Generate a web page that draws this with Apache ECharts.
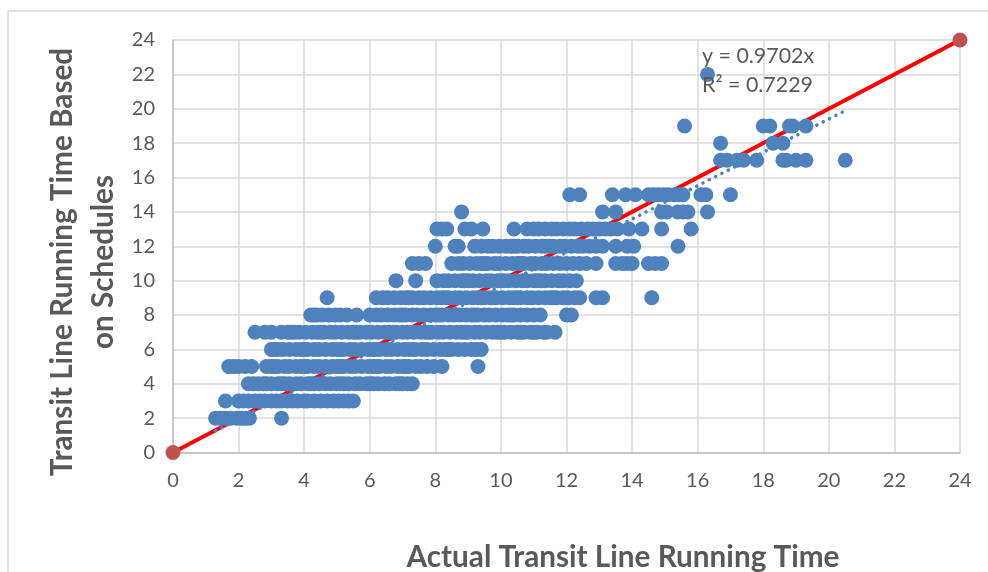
<!DOCTYPE html>
<html>
<head>
<meta charset="utf-8">
<style>
  html, body { margin: 0; padding: 0; background: #fff; }
  #chart { width: 988px; height: 572px; }
</style>
<script src="https://cdn.jsdelivr.net/npm/echarts@6/dist/echarts.min.js"></script>
</head>
<body>
<div id="chart"></div>
<script>
// x values, one list per schedule time
var row2 = [1.3, 1.45, 1.6, 1.75, 1.95, 2.1, 2.2, 2.33, 3.31];
var row3 = [1.6, 2.0, 2.15, 2.3, 2.5, 2.65, 2.8, 3.0, 3.15, 3.3, 3.5, 3.65, 3.8, 4.0, 4.1, 4.3, 4.5, 4.7, 4.9, 5.05, 5.2, 5.35, 5.5];
var row4 = [2.3, 2.45, 2.6, 2.75, 2.85, 3.0, 3.2, 3.3, 3.4, 3.55, 3.75, 3.9, 4.1, 4.2, 4.3, 4.45, 4.65, 4.8, 5.0, 5.1, 5.2, 5.35, 5.55, 5.7, 5.9, 6.0, 6.1, 6.25, 6.45, 6.6, 6.8, 6.9, 7.0, 7.15, 7.3];
var row5 = [1.7, 1.85, 2.0, 2.2, 2.4, 2.85, 3.0, 3.1, 3.2, 3.4, 3.55, 3.75, 3.9, 4.0, 4.1, 4.3, 4.45, 4.65, 4.85, 5.0, 5.1, 5.2, 5.4, 5.55, 5.75, 5.95, 6.1, 6.2, 6.3, 6.5, 6.65, 6.85, 7.0, 7.1, 7.2, 7.4, 7.55, 7.75, 7.95, 8.2, 9.3];
var row6 = [3.0, 3.1, 3.2, 3.35, 3.55, 3.75, 3.9, 4.0, 4.1, 4.3, 4.45, 4.65, 4.85, 5.0, 5.1, 5.2, 5.4, 5.55, 5.75, 5.95, 6.1, 6.2, 6.3, 6.5, 6.65, 6.85, 7.05, 7.2, 7.3, 7.4, 7.6, 7.75, 7.95, 8.15, 8.3, 8.4, 8.5, 8.7, 8.9, 9.1, 9.25, 9.4];
var row7 = [2.5, 2.8, 3.0, 3.3, 3.5, 3.6, 3.7, 3.85, 4.05, 4.25, 4.4, 4.5, 4.6, 4.8, 4.95, 5.15, 5.35, 5.5, 5.6, 5.7, 5.9, 6.05, 6.25, 6.45, 6.6, 6.7, 6.8, 7.0, 7.15, 7.35, 7.55, 7.7, 7.8, 7.9, 8.1, 8.25, 8.45, 8.65, 8.8, 8.9, 9.0, 9.2, 9.35, 9.55, 9.75, 9.9, 10.0, 10.1, 10.3, 10.5, 10.6, 10.7, 10.9, 11.0, 11.1, 11.3, 11.4, 11.65];
var row8 = [4.2, 4.3, 4.4, 4.55, 4.75, 4.95, 5.1, 5.3, 5.6, 6.0, 6.2, 6.35, 6.55, 6.75, 6.9, 7.0, 7.1, 7.3, 7.45, 7.65, 7.85, 8.0, 8.1, 8.2, 8.4, 8.55, 8.75, 8.95, 9.1, 9.2, 9.3, 9.5, 9.65, 9.85, 10.05, 10.2, 10.3, 10.4, 10.6, 10.8, 11.0, 11.2, 12.0, 12.15];
var row9 = [4.7, 6.2, 6.4, 6.55, 6.75, 6.95, 7.1, 7.2, 7.3, 7.5, 7.65, 7.85, 8.05, 8.2, 8.3, 8.4, 8.6, 8.75, 8.95, 9.15, 9.3, 9.4, 9.5, 9.7, 9.85, 10.05, 10.25, 10.4, 10.5, 10.6, 10.8, 10.95, 11.15, 11.35, 11.5, 11.6, 11.7, 11.9, 12.05, 12.25, 12.4, 12.9, 13.1, 14.6];
var row10 = [6.8, 7.4, 8.05, 8.25, 8.4, 8.6, 8.8, 8.9, 9.0, 9.15, 9.35, 9.55, 9.7, 9.9, 10.0, 10.1, 10.25, 10.45, 10.65, 10.8, 11.0, 11.1, 11.2, 11.35, 11.55, 11.75, 11.9, 12.1, 12.3];
var row11 = [7.3, 7.5, 7.7, 8.5, 8.7, 8.85, 9.05, 9.25, 9.4, 9.5, 9.6, 9.8, 9.95, 10.15, 10.35, 10.5, 10.6, 10.7, 10.9, 11.05, 11.25, 11.4, 11.6, 11.8, 12.0, 12.2, 12.4, 12.6, 12.9, 13.5, 13.7, 13.85, 14.0, 14.5, 14.7, 14.9];
var row12 = [8.0, 8.6, 8.7, 9.2, 9.4, 9.6, 9.75, 9.95, 10.15, 10.3, 10.4, 10.5, 10.7, 10.85, 11.05, 11.25, 11.4, 11.5, 11.6, 11.8, 11.95, 12.15, 12.35, 12.5, 12.7, 12.9, 13.1, 13.5, 13.85, 14.05, 15.4];
var row13 = [8.05, 8.2, 8.35, 8.9, 9.1, 9.45, 10.4, 10.8, 11.0, 11.15, 11.35, 11.55, 11.7, 11.9, 12.1, 12.25, 12.45, 12.65, 12.8, 13.0, 13.2, 13.35, 13.55, 13.9, 14.3, 14.9, 15.8];
var row14 = [8.8, 13.1, 13.5, 14.9, 15.05, 15.4, 15.55, 15.7, 16.3];
var row15 = [12.1, 12.4, 13.4, 13.8, 14.1, 14.5, 14.65, 14.8, 14.95, 15.1, 15.3, 15.45, 15.55, 16.1, 16.25, 17.0];
var row17 = [16.7, 16.9, 17.2, 17.4, 17.8, 18.6, 18.7, 19.0, 19.3, 20.5];
var row18 = [16.7, 18.3, 18.6];
var row19 = [15.6, 18.0, 18.2, 18.8, 18.9, 19.3];
var row22 = [16.3];

var scheduleTimes = [2, 3, 4, 5, 6, 7, 8, 9, 10, 11, 12, 13, 14, 15, 17, 18, 19, 22];
var actualTimes = [row2, row3, row4, row5, row6, row7, row8, row9, row10, row11, row12, row13, row14, row15, row17, row18, row19, row22];

var equalLine = [[0, 0], [24, 24]];
var trendLine = [[1.3, 1.26], [20.5, 19.89]];

var points = [];
actualTimes.forEach(function(list, i) {
  list.forEach(function(x) {
    points.push([x, scheduleTimes[i]]);
  });
});

var ink = '#595959';
var gridColor = '#D9D9D9';
var axisColor = '#BFBFBF';
var fontName = 'Lato';

var chart = echarts.init(document.getElementById('chart'), null, { renderer: 'canvas' });

function valueAxis() {
  return {
    type: 'value',
    min: 0,
    max: 24,
    interval: 2,
    axisLine: { show: true, lineStyle: { color: axisColor, width: 1.5 } },
    axisTick: { show: false },
    axisLabel: { color: ink, fontSize: 20, fontFamily: fontName, margin: 18 },
    splitLine: { show: true, lineStyle: { color: gridColor, width: 1.5 } }
  };
}

chart.setOption({
  animation: false,
  backgroundColor: '#fff',
  grid: { left: 173, right: 28, top: 40, bottom: 119.5 },
  xAxis: valueAxis(),
  yAxis: valueAxis(),
  series: [
    {
      type: 'line',
      data: equalLine,
      symbol: 'none',
      z: 2,
      lineStyle: { color: '#FF0000', width: 4 }
    },
    {
      type: 'scatter',
      data: points,
      symbolSize: 15,
      z: 3,
      itemStyle: { color: '#4F81BD', opacity: 1 }
    },
    {
      type: 'line',
      data: trendLine,
      symbol: 'none',
      z: 4,
      lineStyle: { color: '#4F81BD', width: 3.5, type: [0.1, 7], cap: 'round' }
    },
    {
      type: 'scatter',
      data: equalLine,
      symbolSize: 15,
      clip: false,
      z: 5,
      itemStyle: { color: '#C0504D', opacity: 1 }
    }
  ],
  graphic: [
    { type: 'line', silent: true, shape: { x1: 8, y1: 11, x2: 8, y2: 572 }, style: { stroke: gridColor, lineWidth: 1.5 } },
    { type: 'line', silent: true, shape: { x1: 8, y1: 11, x2: 988, y2: 11 }, style: { stroke: gridColor, lineWidth: 1.5 } },
    {
      type: 'text', z: 10, x: 702, y: 42,
      style: { text: 'y = 0.9702x\nR² = 0.7229', fill: ink, font: '21.4px ' + fontName, lineHeight: 29 }
    },
    {
      type: 'text', z: 10, x: 623, y: 557,
      style: { text: 'Actual Transit Line Running Time', fill: ink, font: 'bold 29.7px ' + fontName, textAlign: 'center', textVerticalAlign: 'middle' }
    },
    {
      type: 'text', z: 10, x: 62, y: 262, rotation: Math.PI / 2,
      style: { text: 'Transit Line Running Time Based', fill: ink, font: 'bold 29.7px ' + fontName, textAlign: 'center', textVerticalAlign: 'middle' }
    },
    {
      type: 'text', z: 10, x: 103, y: 262, rotation: Math.PI / 2,
      style: { text: 'on Schedules', fill: ink, font: 'bold 29.7px ' + fontName, textAlign: 'center', textVerticalAlign: 'middle' }
    }
  ]
});
</script>
</body>
</html>
